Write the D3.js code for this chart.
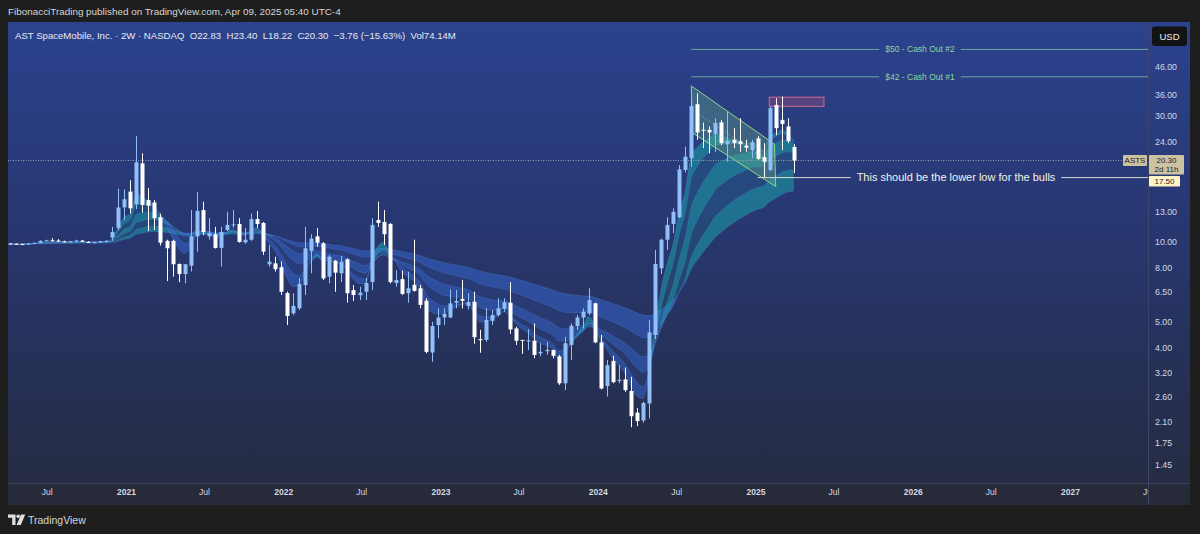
<!DOCTYPE html>
<html>
<head>
<meta charset="utf-8">
<script src="https://cdn.jsdelivr.net/npm/d3@7"></script>
<style>
  html, body { margin: 0; padding: 0; background: #1e1e1e; }
  svg { display: block; font-family: "Liberation Sans", Arial, sans-serif; }
</style>
</head>
<body>
<div id="chart"></div>
<script>
// Constants
const w = 1200;
const h = 534;
const panel = { left: 8, right: 1190, top: 22, bottom: 505 };
const plot = { left: 8, right: 1148, top: 22, bottom: 483 };

// 2W candles, first bar opens 2020-04-06
const firstBar = new Date(2020, 3, 6);
const opens = [9.86, 9.84, 9.82, 9.80, 9.86, 9.93, 10.10, 10.15, 10.12, 10.05, 10.02, 10.05, 10.12, 10.00, 9.95, 9.98, 10.06,
  10.4, 11.3, 13.5, 15.5, 13.9, 19.8, 14.4, 14.1, 12.4, 10.1, 10.1, 8.26, 7.57, 8.14, 10.5, 13.2, 10.5, 10.7, 9.5,
  11.1, 11.55, 11.7, 9.97, 10.2, 12.2, 11.8, 8.24, 8.31, 8.03, 6.42, 5.38, 5.62, 6.88, 9.25, 10.5, 9.89, 7.4, 8.5,
  7.62, 8.6, 6.59, 6.3, 6.49, 7.06, 12.1, 11.9, 11.7, 7.0, 7.24, 6.41, 6.9, 6.69, 6.0, 3.83, 4.86, 5.19, 5.19, 5.9,
  6.1, 5.74, 5.95, 4.3, 4.27, 5.04, 5.3, 5.6, 5.9, 4.72, 4.27, 4.23, 4.24, 3.8, 3.87, 3.91, 3.7, 2.93, 4.09, 4.82,
  5.19, 5.38, 5.87, 4.18, 2.86, 3.56, 2.99, 3.03, 2.74, 2.27, 2.12, 2.46, 4.46, 7.96, 10.2, 11.7, 12.4, 18.7, 20.7,
  33.1, 26.5, 26.5, 25.6, 28.3, 23.4, 24.3, 24.0, 23.1, 22.2, 24.6, 20.9, 18.7, 32.9, 28.9, 27.3, 22.83];
const highs = [9.90, 9.88, 9.86, 9.88, 9.95, 10.15, 10.20, 10.35, 10.25, 10.12, 10.10, 10.20, 10.18, 10.08, 10.05, 10.10, 10.15,
  11.4, 15.9, 15.8, 17.1, 25.1, 21.6, 16.0, 14.4, 12.8, 10.2, 10.2, 8.3, 8.26, 13.2, 15.4, 14.2, 12.3, 11.4, 11.4,
  13.0, 13.2, 12.3, 11.3, 12.8, 13.1, 11.9, 9.74, 8.8, 8.43, 6.5, 6.41, 7.3, 11.4, 10.7, 11.3, 10.0, 8.93, 8.55,
  8.85, 8.68, 6.88, 6.78, 7.3, 12.3, 14.2, 13.2, 11.8, 7.84, 7.8, 7.73, 10.2, 6.88, 6.13, 5.0, 5.62, 5.62, 6.63, 6.59,
  7.19, 6.41, 6.49, 4.66, 5.62, 5.54, 6.13, 6.13, 7.06, 4.79, 4.28, 4.68, 4.93, 4.15, 4.2, 3.93, 3.75, 4.39, 4.93, 5.3,
  5.62, 6.69, 5.9, 4.46, 3.59, 3.72, 3.43, 3.36, 3.1, 2.36, 2.5, 5.08, 9.33, 10.3, 12.4, 13.4, 19.5, 22.9, 37.5,
  36.4, 28.2, 27.3, 29.3, 28.9, 31.0, 26.9, 29.3, 24.3, 24.3, 25.1, 23.6, 32.4, 34.9, 35.4, 29.3, 23.40];
const lows = [9.82, 9.80, 9.78, 9.78, 9.84, 9.90, 10.05, 10.05, 10.00, 9.98, 9.96, 10.00, 10.00, 9.92, 9.88, 9.95, 10.00,
  10.1, 11.1, 12.1, 12.8, 13.3, 12.9, 11.0, 11.1, 9.7, 7.12, 7.4, 7.06, 6.98, 7.73, 9.2, 10.6, 10.2, 9.45, 8.07,
  11.0, 11.3, 9.95, 9.85, 10.1, 11.3, 8.93, 8.07, 7.73, 6.31, 4.86, 5.3, 5.54, 6.31, 7.62, 9.6, 7.19, 6.98, 6.49,
  7.06, 5.9, 5.99, 6.04, 6.04, 6.59, 11.4, 9.74, 6.98, 6.78, 6.31, 5.9, 6.49, 5.62, 3.8, 3.53, 4.33, 4.86, 5.16, 5.62,
  5.62, 5.57, 4.13, 3.82, 4.2, 4.86, 5.23, 5.46, 4.5, 4.09, 3.78, 3.91, 3.64, 3.7, 3.75, 3.64, 2.89, 2.76, 3.59, 4.66,
  4.72, 5.3, 4.15, 2.78, 2.61, 2.93, 2.93, 2.72, 2.0, 2.02, 2.08, 2.16, 4.3, 7.57, 9.33, 10.8, 12.3, 18.3, 19.2,
  24.3, 22.6, 21.6, 21.9, 23.2, 20.1, 22.6, 21.9, 21.9, 20.7, 20.4, 17.5, 18.5, 25.3, 22.2, 23.6, 18.22];
const closes = [9.84, 9.82, 9.80, 9.86, 9.93, 10.10, 10.15, 10.12, 10.08, 10.02, 10.05, 10.12, 10.02, 9.95, 9.98, 10.06, 10.10,
  10.9, 13.5, 14.5, 13.4, 20.0, 13.8, 13.7, 12.3, 9.94, 9.47, 8.24, 7.57, 8.24, 10.5, 13.1, 10.9, 10.8, 9.5, 10.9,
  11.6, 11.65, 10.0, 10.2, 12.2, 11.7, 9.2, 8.43, 7.9, 6.49, 5.26, 5.74, 6.94, 9.47, 10.3, 9.94, 7.29, 8.8, 7.66,
  8.43, 6.41, 6.31, 6.44, 7.0, 11.6, 11.8, 10.7, 7.06, 7.19, 6.37, 6.69, 6.54, 5.79, 3.85, 4.82, 5.19, 5.35, 5.87, 5.99,
  6.0, 5.94, 4.37, 4.26, 5.08, 5.3, 5.62, 5.92, 4.68, 4.24, 4.24, 4.25, 3.75, 3.85, 3.92, 3.72, 2.93, 4.15, 4.83, 5.19,
  5.46, 6.04, 4.18, 2.8, 3.43, 2.96, 3.02, 2.76, 2.2, 2.11, 2.47, 4.56, 8.26, 10.2, 11.6, 13.0, 18.8, 21.0, 32.6,
  25.9, 26.3, 25.9, 28.1, 23.6, 24.1, 23.6, 23.4, 22.7, 23.8, 20.6, 20.1, 32.0, 26.9, 27.9, 24.0, 20.30];

// EMA ribbon: lengths of the lines, and which neighbouring pairs get a strong fill
const emaLengths = [5, 8, 13, 21, 34, 55];
const strongBands = [true, false, true, false, true];

// Axis ticks
const yTicks = [46, 36, 30, 24, 13, 10, 8, 6.5, 5, 4, 3.2, 2.6, 2.1, 1.75, 1.45];
const xTickDates = ["2020-07-01", "2021-01-01", "2021-07-01", "2022-01-01", "2022-07-01", "2023-01-01", "2023-07-01",
  "2024-01-01", "2024-07-01", "2025-01-01", "2025-07-01", "2026-01-01", "2026-07-01", "2027-01-01", "2027-07-01"];
const xTickLabels = ["Jul", "2021", "Jul", "2022", "Jul", "2023", "Jul", "2024", "Jul", "2025", "Jul", "2026", "Jul", "2027", "Jul"];

// Drawings
const cashLevels = [53.3, 42];
const cashLabels = ["$50 - Cash Out #2", "$42 - Cash Out #1"];
const cashStart = "2024-08-05";
const lowerLowPrice = 17.5;
const lowerLowStart = "2025-01-06";
const lowerLowText = "This should be the lower low for the bulls";
const channelDates = ["2024-08-05", "2025-02-14", "2025-02-17", "2024-08-08"];
const channelPrices = [38.8, 23.4, 16.2, 25.8];
const boxDates = ["2025-02-02", "2025-06-09"];
const boxPrices = [35.2, 32.5];
const lastPrice = 20.30;

const parseDay = d3.timeParse("%Y-%m-%d");
const dates = opens.map((d, i) => d3.timeDay.offset(firstBar, 14 * i));

const xScale = d3.scaleTime()
  .domain([new Date(2021, 0, 1), new Date(2027, 0, 1)])
  .range([126, 1070]);
const yScale = d3.scaleLog().domain([1, 100]).range([507, -23]);

const upColor = "#90bff9";
const downColor = "#ffffff";
const bullColor = "#1aa2a8";
const bearColor = "#3565cc";

const svg = d3.select("#chart").append("svg")
  .attr("width", w)
  .attr("height", h);

const defs = svg.append("defs");
const grad = defs.append("linearGradient")
  .attr("id", "bg").attr("x1", 0).attr("y1", 0).attr("x2", 0).attr("y2", 1);
grad.append("stop").attr("offset", "0%").attr("stop-color", "#2b428e");
grad.append("stop").attr("offset", "45%").attr("stop-color", "#27366e");
grad.append("stop").attr("offset", "100%").attr("stop-color", "#252b3f");

defs.append("clipPath").attr("id", "plotClip")
  .append("rect")
  .attr("x", plot.left).attr("y", plot.top)
  .attr("width", plot.right - plot.left).attr("height", plot.bottom - plot.top);

// Page background + header
svg.append("rect").attr("width", w).attr("height", h).attr("fill", "#1e1e1e");
svg.append("text")
  .attr("x", 8).attr("y", 15)
  .attr("fill", "#d6d6d6")
  .style("font-size", "9.9px")
  .text("FibonacciTrading published on TradingView.com, Apr 09, 2025 05:40 UTC-4");

// Chart panel
svg.append("rect")
  .attr("x", panel.left).attr("y", panel.top)
  .attr("width", panel.right - panel.left).attr("height", panel.bottom - panel.top)
  .attr("fill", "url(#bg)");

// Bottom axis strip
svg.append("rect")
  .attr("x", panel.left).attr("y", plot.bottom)
  .attr("width", panel.right - panel.left).attr("height", panel.bottom - plot.bottom)
  .attr("fill", "#262a39");
svg.append("line")
  .attr("x1", panel.left).attr("x2", panel.right)
  .attr("y1", plot.bottom + 0.5).attr("y2", plot.bottom + 0.5)
  .attr("stroke", "#3b4052");
svg.append("line")
  .attr("x1", plot.right + 0.5).attr("x2", plot.right + 0.5)
  .attr("y1", panel.top).attr("y2", panel.bottom)
  .attr("stroke", "#3c4568");

const g = svg.append("g").attr("clip-path", "url(#plotClip)");

// EMA helper
function ema(values, n) {
  const k = 2 / (n + 1);
  const out = [];
  values.forEach((v, i) => {
    out.push(i === 0 ? v : v * k + out[i - 1] * (1 - k));
  });
  return out;
}

// Ribbon bands between neighbouring EMAs, split into runs of the same colour
const emaLines = emaLengths.map(n => ema(closes, n));
const ribbonGroup = g.append("g");
for (let b = emaLines.length - 2; b >= 0; b--) {
  const fast = emaLines[b];
  const slow = emaLines[b + 1];
  const strong = strongBands[b];
  const pts = dates.map((d, i) => ({ d, f: fast[i], s: slow[i], bull: fast[i] >= slow[i] }));
  const area = d3.area()
    .x(p => xScale(p.d))
    .y0(p => yScale(p.s))
    .y1(p => yScale(p.f))
    .curve(d3.curveMonotoneX);
  let run = [pts[0]];
  for (let i = 1; i < pts.length; i++) {
    run.push(pts[i]);
    if (pts[i].bull !== pts[i - 1].bull || i === pts.length - 1) {
      ribbonGroup.append("path")
        .attr("d", area(run))
        .attr("fill", pts[i - 1].bull ? bullColor : bearColor)
        .attr("fill-opacity", strong ? 0.55 : 0.16);
      run = [pts[i]];
    }
  }
}
// Thin edge lines on every EMA
emaLines.forEach((line, li) => {
  g.append("path")
    .attr("d", d3.line()
      .x((v, i) => xScale(dates[i]))
      .y(v => yScale(v))
      .curve(d3.curveMonotoneX)(line))
    .attr("fill", "none")
    .attr("stroke", "#5b8ee8")
    .attr("stroke-opacity", 0.25)
    .attr("stroke-width", 1);
});

// Falling channel
const channelPts = channelDates.map((d, i) => [xScale(parseDay(d)), yScale(channelPrices[i])]);
g.append("path")
  .attr("d", d3.line()(channelPts) + "Z")
  .attr("fill", "#6fc48c")
  .attr("fill-opacity", 0.3)
  .attr("stroke", "#93d28e")
  .attr("stroke-width", 1);
g.append("line")
  .attr("x1", (channelPts[0][0] + channelPts[3][0]) / 2)
  .attr("y1", (channelPts[0][1] + channelPts[3][1]) / 2)
  .attr("x2", (channelPts[1][0] + channelPts[2][0]) / 2)
  .attr("y2", (channelPts[1][1] + channelPts[2][1]) / 2)
  .attr("stroke", "#9fd89a")
  .attr("stroke-opacity", 0.45)
  .attr("stroke-dasharray", "2,2");

// Resistance box
g.append("rect")
  .attr("x", xScale(parseDay(boxDates[0])))
  .attr("y", yScale(boxPrices[0]))
  .attr("width", xScale(parseDay(boxDates[1])) - xScale(parseDay(boxDates[0])))
  .attr("height", yScale(boxPrices[1]) - yScale(boxPrices[0]))
  .attr("fill", "#c0507a")
  .attr("fill-opacity", 0.3)
  .attr("stroke", "#d06a90")
  .attr("stroke-width", 1);

// Last price dotted line
g.append("line")
  .attr("x1", plot.left).attr("x2", plot.right)
  .attr("y1", yScale(lastPrice)).attr("y2", yScale(lastPrice))
  .attr("stroke", "#9aa0b0")
  .attr("stroke-width", 1.2)
  .attr("stroke-dasharray", "1,1.5");

// Candles
const candles = g.append("g");
dates.forEach((d, i) => {
  const cx = Math.round(xScale(d)) + 0.5;
  const up = closes[i] >= opens[i];
  const col = up ? upColor : downColor;
  candles.append("line")
    .attr("x1", cx).attr("x2", cx)
    .attr("y1", yScale(highs[i])).attr("y2", yScale(lows[i]))
    .attr("stroke", col).attr("stroke-width", 1);
  const top = yScale(Math.max(opens[i], closes[i]));
  const bot = yScale(Math.min(opens[i], closes[i]));
  candles.append("rect")
    .attr("x", cx - 2).attr("y", top)
    .attr("width", 4).attr("height", Math.max(1, bot - top))
    .attr("fill", col);
});

// Horizontal ray with a centred label and a gap round the text
function labelledRay(price, startDate, label, labelX, color, textColor, size) {
  const yy = yScale(price);
  const txt = g.append("text")
    .attr("x", labelX).attr("y", yy + size * 0.35)
    .attr("text-anchor", "middle")
    .attr("fill", textColor)
    .style("font-size", size + "px")
    .text(label);
  const tw = txt.node().getComputedTextLength();
  const x0 = xScale(parseDay(startDate));
  g.append("line")
    .attr("x1", x0).attr("x2", labelX - tw / 2 - 6)
    .attr("y1", yy).attr("y2", yy)
    .attr("stroke", color);
  g.append("line")
    .attr("x1", labelX + tw / 2 + 6).attr("x2", plot.right)
    .attr("y1", yy).attr("y2", yy)
    .attr("stroke", color);
}

cashLevels.forEach((p, i) => labelledRay(p, cashStart, cashLabels[i], 920, "#6fa79b", "#8fd3a2", 8.5));
labelledRay(lowerLowPrice, lowerLowStart, lowerLowText, 956, "#dcdccc", "#f2f2ea", 11);

// Y axis
const yAxis = d3.axisRight(yScale)
  .tickValues(yTicks)
  .tickFormat(d3.format(".2f"))
  .tickSize(0)
  .tickPadding(7);
const yAxisG = svg.append("g")
  .attr("transform", `translate(${plot.right},0)`)
  .call(yAxis);
yAxisG.select(".domain").remove();
yAxisG.selectAll(".tick text")
  .attr("fill", "#d4d8e2")
  .style("font-family", "\"Liberation Sans\", Arial, sans-serif")
  .style("font-size", "8.8px");

// X axis
const xAxis = d3.axisBottom(xScale)
  .tickValues(xTickDates.map(parseDay))
  .tickFormat((d, i) => xTickLabels[i])
  .tickSize(0)
  .tickPadding(6);
svg.append("defs").append("clipPath").attr("id", "xClip")
  .append("rect").attr("x", panel.left).attr("y", plot.bottom).attr("width", plot.right - panel.left).attr("height", 30);
const xAxisG = svg.append("g")
  .attr("clip-path", "url(#xClip)")
  .append("g")
  .attr("transform", `translate(0,${plot.bottom})`)
  .call(xAxis);
xAxisG.select(".domain").remove();
xAxisG.selectAll(".tick text")
  .attr("fill", "#d4d8e2")
  .style("font-family", "\"Liberation Sans\", Arial, sans-serif")
  .style("font-size", "8.5px")
  .style("font-weight", (d, i) => (xTickLabels[i] === "Jul" ? "normal" : "bold"));

// Price labels on the axis
function axisTag(x, y, wd, ht, fill, lines, textFill) {
  svg.append("rect")
    .attr("x", x).attr("y", y).attr("width", wd).attr("height", ht)
    .attr("rx", 1).attr("fill", fill);
  lines.forEach((t, i) => {
    svg.append("text")
      .attr("x", x + wd / 2).attr("y", y + 8 + i * 8.5)
      .attr("text-anchor", "middle")
      .attr("fill", textFill)
      .style("font-size", "8px")
      .text(t);
  });
}
const yl = yScale(lastPrice);
axisTag(1123, yl - 5.5, 24, 11, "#cbc2a2", ["ASTS"], "#1c2030");
axisTag(plot.right + 1, yl - 5.5, 35, 19.5, "#cbc2a2", ["20.30", "2d 11h"], "#1c2030");
axisTag(plot.right + 1, yl + 15.5, 31, 10.5, "#fff4c4", ["17.50"], "#1c2030");

// Legend
svg.append("text")
  .attr("x", 15).attr("y", 38.5)
  .attr("fill", "#e8eaf0")
  .style("font-size", "9.6px")
  .attr("xml:space", "preserve")
  .style("white-space", "pre")
  .text("AST SpaceMobile, Inc. \u00b7 2W \u00b7 NASDAQ  O22.83  H23.40  L18.22  C20.30  \u22123.76 (\u221215.63%)  Vol74.14M");

// USD badge
svg.append("rect")
  .attr("x", 1152).attr("y", 26.5).attr("width", 35).attr("height", 19.5)
  .attr("rx", 3).attr("fill", "#131313");
svg.append("text")
  .attr("x", 1169.5).attr("y", 39.5)
  .attr("text-anchor", "middle")
  .attr("fill", "#f0f0f0")
  .style("font-size", "9.5px")
  .text("USD");

// TradingView logo
const logo = svg.append("g").attr("fill", "#e0e0e0");
logo.append("path").attr("d", "M8,514.5 h7.5 v10.5 h-3.3 v-7.2 h-4.2 z");
logo.append("circle").attr("cx", 18.2).attr("cy", 516.3).attr("r", 1.8);
logo.append("path").attr("d", "M21,514.5 h4.2 l-4.4,10.5 h-4.2 z");
svg.append("text")
  .attr("x", 28).attr("y", 523.5)
  .attr("fill", "#d6d6d6")
  .style("font-size", "10.5px")
  .text("TradingView");
</script>
</body>
</html>
